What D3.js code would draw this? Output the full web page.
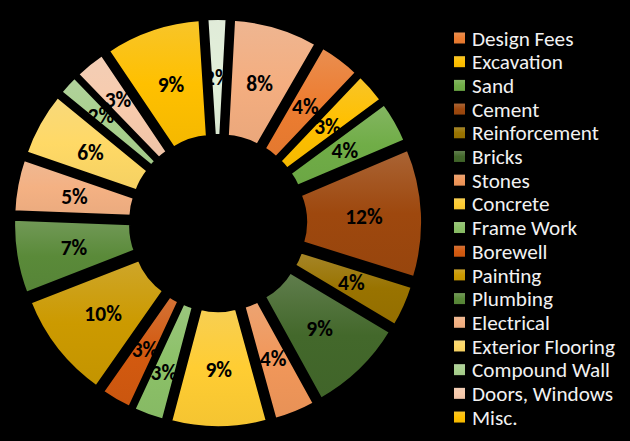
<!DOCTYPE html>
<html><head><meta charset="utf-8">
<script src="https://cdn.jsdelivr.net/npm/d3@7"></script>
<style>html,body{margin:0;padding:0;background:#000;} svg{display:block}</style>
</head><body>
<svg id="c" width="630" height="441"></svg>
<script>
const categories = ["Design Fees","Excavation","Sand","Cement","Reinforcement","Bricks","Stones","Concrete","Frame Work","Borewell","Painting","Plumbing","Electrical","Exterior Flooring","Compound Wall","Doors, Windows","Misc."];
const values = [4,3,4,12,4,9,4,9,3,3,10,7,5,6,2,3,9,2,8];
const colors = ["#ED7D31","#FFC000","#70AD47","#9E480E","#997300","#43682B","#F1975A","#FFCD33","#8CC168","#D35A10","#CC9A00","#5A8A39","#F4B183","#FFD966","#A9D18E","#F8CBAD","#FFC000","#E2F0D9","#F4AE80"];

const W = 630, H = 441;
const cx = 218, cy = 223;
const outerR = 190, innerR = 71, explode = 15.6;
const startDeg = 30;
const labelSize = 21.5, labelPush = 13;

const svg = d3.select("#c");
svg.append("rect").attr("width", W).attr("height", H).attr("fill", "#000");
const defs = svg.append("defs");

colors.forEach((c, i) => {
  const g = defs.append("linearGradient").attr("id", "g" + i)
    .attr("x1", 0).attr("y1", 0).attr("x2", 0).attr("y2", 1);
  g.append("stop").attr("offset", 0).attr("stop-color", d3.interpolateRgb(c, "#d8d8d8")(0.2));
  g.append("stop").attr("offset", 0.5).attr("stop-color", c);
  g.append("stop").attr("offset", 1).attr("stop-color", d3.color(c).darker(0.12).formatHex());
});

const a0 = startDeg * Math.PI / 180;
const pie = d3.pie().value(d => d).sort(null).startAngle(a0).endAngle(a0 + 2 * Math.PI);
const arcs = pie(values);
const arc = d3.arc().innerRadius(innerR).outerRadius(outerR);

const chart = svg.append("g").attr("transform", `translate(${cx},${cy})`);
function mid(d) { return (d.startAngle + d.endAngle) / 2; }
function off(d) { const m = mid(d); return [explode * Math.sin(m), -explode * Math.cos(m)]; }

chart.selectAll("path.slice").data(arcs).join("path")
  .attr("class", "slice")
  .attr("d", arc)
  .attr("transform", d => { const o = off(d); return `translate(${o[0]},${o[1]})`; })
  .attr("fill", (d, i) => `url(#g${i})`)
  .attr("stroke", "#000").attr("stroke-width", 5).attr("stroke-linejoin", "miter");

const labels = chart.selectAll("text.lbl").data(arcs).join("text")
  .attr("class", "lbl")
  .attr("text-anchor", "middle").attr("dy", "0.36em")
  .attr("font-family", "Carlito, Calibri, Lato, sans-serif").attr("font-weight", "bold").attr("font-size", labelSize)
  .attr("fill", "#000")
  .text(d => d.value + "%");

// default label positions: centroid of each exploded slice
const pos = arcs.map((d, i) => {
  const o = off(d), c = arc.centroid(d);
  return { x: c[0] + o[0], y: c[1] + o[1], w: labels.nodes()[i].getComputedTextLength(), h: labelSize * 0.8, a: mid(d), r: 0 };
});
function overlap(p, q) {
  return Math.abs(p.x - q.x) < (p.w + q.w) / 2 && Math.abs(p.y - q.y) < (p.h + q.h) / 2;
}
function push(p) { p.x += labelPush * Math.sin(p.a); p.y -= labelPush * Math.cos(p.a); p.r = 1; }
const n = pos.length;
const def = pos.map(p => Object.assign({}, p));
for (let i = 0; i < n; i++) { if (overlap(pos[i], def[(i + 1) % n])) push(pos[i]); }
for (let i = 1; i < n; i++) { if (!pos[i].r && overlap(pos[i], pos[i - 1])) push(pos[i]); }
labels.attr("transform", (d, i) => `translate(${pos[i].x},${pos[i].y})`);

const leg = svg.append("g");
const legY0 = 38, legStep = 23.69;
const items = leg.selectAll("g").data(categories).join("g")
  .attr("transform", (d, i) => `translate(454,${legY0 + i * legStep})`);
items.append("rect").attr("x", 0).attr("y", -5.5).attr("width", 11).attr("height", 11)
  .attr("fill", (d, i) => `url(#g${i})`);
items.append("text").attr("x", 18).attr("dy", "0.36em")
  .attr("font-family", "Carlito, Calibri, Lato, sans-serif").attr("font-size", 21.2)
  .attr("fill", "#F2F2F2").text(d => d);
</script>
</body></html>
